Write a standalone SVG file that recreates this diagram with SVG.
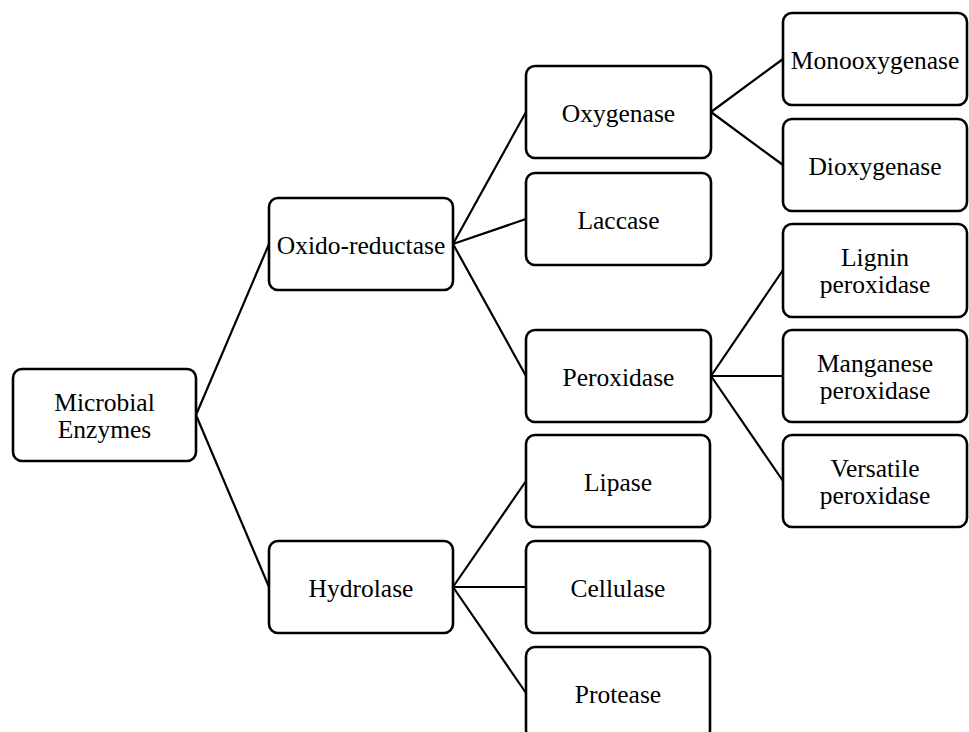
<svg xmlns="http://www.w3.org/2000/svg" width="969" height="732" viewBox="0 0 969 732">
  <style>
    .box { fill: #ffffff; stroke: #000000; stroke-width: 2.6; }
    .lbl { font-family: "Liberation Serif", "Times New Roman", serif; font-size: 25.5px; fill: #000000; text-anchor: middle; }
    .edge { stroke: #000000; stroke-width: 2.2; fill: none; }
  </style>
  <rect width="969" height="732" fill="#ffffff"/>

  <g id="connectors">
    <line class="edge" x1="196" y1="415" x2="269" y2="244"/>
    <line class="edge" x1="196" y1="415" x2="269" y2="587"/>
    <line class="edge" x1="453" y1="244" x2="526" y2="112"/>
    <line class="edge" x1="453" y1="244" x2="526" y2="219"/>
    <line class="edge" x1="453" y1="244" x2="526" y2="376"/>
    <line class="edge" x1="711" y1="112" x2="783" y2="59"/>
    <line class="edge" x1="711" y1="112" x2="783" y2="165"/>
    <line class="edge" x1="711" y1="376" x2="783" y2="270"/>
    <line class="edge" x1="711" y1="376" x2="783" y2="376"/>
    <line class="edge" x1="711" y1="376" x2="783" y2="481"/>
    <line class="edge" x1="453" y1="587" x2="526" y2="481"/>
    <line class="edge" x1="453" y1="587" x2="526" y2="587"/>
    <line class="edge" x1="453" y1="587" x2="526" y2="693"/>
  </g>

  <g id="microbial-enzymes">
    <rect class="box" x="13" y="369" width="183" height="92" rx="9"/>
    <text class="lbl" x="104.5" y="410.5">Microbial</text>
    <text class="lbl" x="104.5" y="437.5">Enzymes</text>
  </g>
  <g id="oxido-reductase">
    <rect class="box" x="269" y="198" width="184" height="92" rx="9"/>
    <text class="lbl" x="361" y="253.5">Oxido-reductase</text>
  </g>
  <g id="hydrolase">
    <rect class="box" x="269" y="541" width="184" height="92" rx="9"/>
    <text class="lbl" x="361" y="596.5">Hydrolase</text>
  </g>
  <g id="oxygenase">
    <rect class="box" x="526" y="66" width="185" height="92" rx="9"/>
    <text class="lbl" x="618.5" y="121.5">Oxygenase</text>
  </g>
  <g id="laccase">
    <rect class="box" x="526" y="173" width="185" height="92" rx="9"/>
    <text class="lbl" x="618.5" y="228.5">Laccase</text>
  </g>
  <g id="peroxidase">
    <rect class="box" x="526" y="330" width="185" height="92" rx="9"/>
    <text class="lbl" x="618.5" y="385.5">Peroxidase</text>
  </g>
  <g id="lipase">
    <rect class="box" x="526" y="435" width="184" height="92" rx="9"/>
    <text class="lbl" x="618" y="490.5">Lipase</text>
  </g>
  <g id="cellulase">
    <rect class="box" x="526" y="541" width="184" height="92" rx="9"/>
    <text class="lbl" x="618" y="596.5">Cellulase</text>
  </g>
  <g id="protease">
    <rect class="box" x="526" y="647" width="184" height="92" rx="9"/>
    <text class="lbl" x="618" y="702.5">Protease</text>
  </g>
  <g id="monooxygenase">
    <rect class="box" x="783" y="13" width="184" height="92" rx="9"/>
    <text class="lbl" x="875" y="68.5">Monooxygenase</text>
  </g>
  <g id="dioxygenase">
    <rect class="box" x="783" y="119" width="184" height="92" rx="9"/>
    <text class="lbl" x="875" y="174.5">Dioxygenase</text>
  </g>
  <g id="lignin-peroxidase">
    <rect class="box" x="783" y="224" width="184" height="93" rx="9"/>
    <text class="lbl" x="875" y="266">Lignin</text>
    <text class="lbl" x="875" y="293">peroxidase</text>
  </g>
  <g id="manganese-peroxidase">
    <rect class="box" x="783" y="330" width="184" height="92" rx="9"/>
    <text class="lbl" x="875" y="371.5">Manganese</text>
    <text class="lbl" x="875" y="398.5">peroxidase</text>
  </g>
  <g id="versatile-peroxidase">
    <rect class="box" x="783" y="435" width="184" height="92" rx="9"/>
    <text class="lbl" x="875" y="476.5">Versatile</text>
    <text class="lbl" x="875" y="503.5">peroxidase</text>
  </g>
</svg>
